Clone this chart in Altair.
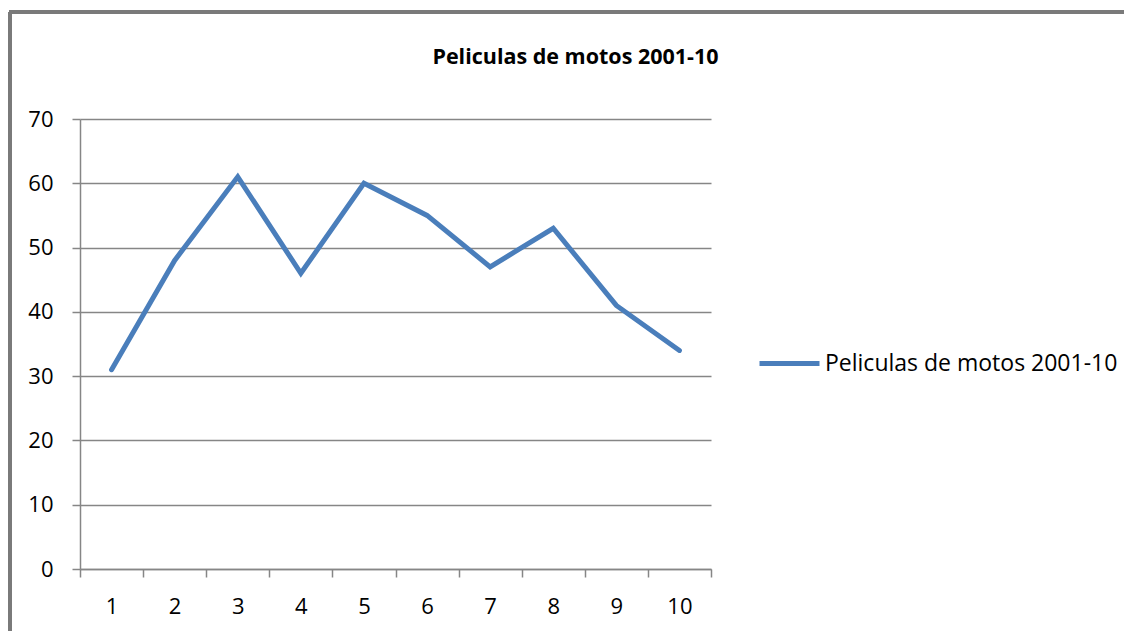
import altair as alt
import pandas as pd

categories = ["1", "2", "3", "4", "5", "6", "7", "8", "9", "10"]
values = [31, 48, 61, 46, 60, 55, 47, 53, 41, 34]
series_name = "Peliculas de motos 2001-10"
y_ticks = [0, 10, 20, 30, 40, 50, 60, 70]

df = pd.DataFrame({"cat": categories, "val": values, "serie": [series_name] * len(values)})

FONT = "Open Sans"
W, H = 631, 450
PAD_L, PAD_T = 72, 111

line = alt.Chart(df).mark_line(strokeWidth=5, strokeCap="round", strokeJoin="miter").encode(
    x=alt.X("cat:N", sort=categories, title=None,
            scale=alt.Scale(type="band", paddingInner=0, paddingOuter=0),
            axis=alt.Axis(labelAngle=0, tickBand="extent", ticks=True, tickSize=8,
                          tickColor="#868686", tickWidth=1.5, domainColor="#868686",
                          domainWidth=1.5, labelFont=FONT, labelFontSize=22,
                          labelColor="#000000", labelPadding=19, grid=False)),
    y=alt.Y("val:Q", title=None,
            scale=alt.Scale(domain=[0, 70], nice=False),
            axis=alt.Axis(values=y_ticks, tickSize=8, tickColor="#868686", tickWidth=1.5,
                          domainColor="#868686", domainWidth=1.5,
                          gridColor="#868686", gridWidth=1.5, grid=True,
                          labelFont=FONT, labelFontSize=22, labelColor="#000000",
                          labelPadding=19)),
    color=alt.Color("serie:N", title=None,
                    scale=alt.Scale(range=["#4A7EBB"]),
                    legend=alt.Legend(orient="none", legendX=677, legendY=212,
                                      symbolType="stroke", symbolSize=3600,
                                      symbolStrokeWidth=5, labelFont=FONT,
                                      labelFontSize=23, labelColor="#000000",
                                      labelLimit=0, labelOffset=3, padding=0)),
)

border_top = alt.Chart(df).mark_rule(color="#7a7a7a", strokeWidth=3).encode(
    x=alt.value(-71), x2=alt.value(W + 420), y=alt.value(-107)
)
border_left = alt.Chart(df).mark_rule(color="#7a7a7a", strokeWidth=3).encode(
    x=alt.value(-70), y=alt.value(-107), y2=alt.value(H + 80)
)

chart = alt.layer(border_top, border_left, line).properties(
    width=W, height=H,
    title=alt.TitleParams(series_name, font=FONT, fontSize=21.5, fontWeight="bold",
                          color="#000000", anchor="middle", dx=180, offset=-58),
    autosize=alt.AutoSizeParams(type="none"),
    padding={"left": PAD_L, "top": PAD_T, "right": 413, "bottom": 62},
).configure_view(stroke=None)

chart.save("out.html", embed_options={"renderer": "svg", "actions": False})
